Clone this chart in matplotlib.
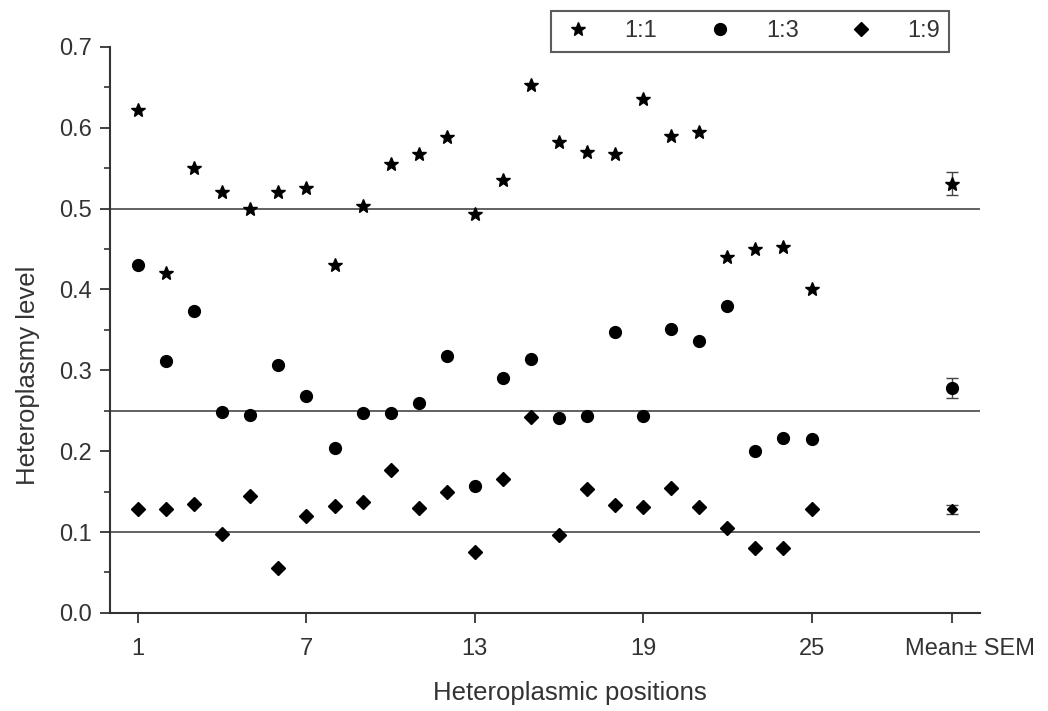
import numpy as np
import matplotlib
matplotlib.use('Agg')
import matplotlib.pyplot as plt
from matplotlib.ticker import MultipleLocator
from matplotlib.transforms import ScaledTranslation

plt.rcParams['font.family'] = ['Liberation Sans', 'DejaVu Sans']

# 数据
pos = np.arange(1, 26)
r11 = [0.622, 0.42, 0.55, 0.52, 0.50, 0.52, 0.525, 0.43, 0.503, 0.555,
       0.567, 0.588, 0.493, 0.535, 0.653, 0.583, 0.57, 0.568, 0.635, 0.59,
       0.595, 0.44, 0.45, 0.453, 0.40]
r13 = [0.43, 0.312, 0.373, 0.248, 0.245, 0.306, 0.268, 0.204, 0.247, 0.247,
       0.26, 0.318, 0.157, 0.29, 0.314, 0.241, 0.244, 0.347, 0.243, 0.351,
       0.336, 0.379, 0.20, 0.216, 0.215]
r19 = [0.128, 0.128, 0.135, 0.097, 0.144, 0.055, 0.12, 0.132, 0.137, 0.177,
       0.13, 0.15, 0.075, 0.165, 0.242, 0.096, 0.153, 0.133, 0.131, 0.155,
       0.131, 0.105, 0.08, 0.08, 0.128]
mean_x = 30
means = [0.531, 0.278, 0.128]
sems = [0.014, 0.012, 0.006]
ref_lines = [0.5, 0.25, 0.1]
labels = ['1:1', '1:3', '1:9']
xticks = [1, 7, 13, 19, 25, 30]
xticklabels = ['1', '7', '13', '19', '25', 'Mean\u00b1 SEM']

fig = plt.figure(figsize=(10.48, 7.11), dpi=100)
ax = fig.add_axes([0.105, 0.138, 0.83, 0.796])

for y in ref_lines:
    ax.axhline(y, color='#555555', lw=1.3, zorder=1)

h1, = ax.plot(pos, r11, ls='none', marker='*', ms=10, color='black', label=labels[0])
h2, = ax.plot(pos, r13, ls='none', marker='o', ms=8.5, color='black', label=labels[1])
h3, = ax.plot(pos, r19, ls='none', marker='D', ms=7, color='black', label=labels[2])

mk = ['*', 'o', 'D']
msz = [10, 8.5, 5]
for m, s, k, z in zip(means, sems, mk, msz):
    ax.errorbar(mean_x, m, yerr=s, fmt=k, ms=z, color='black', ecolor='#444444',
                elinewidth=1, capsize=4)

ax.set_xlim(0, 31)
ax.set_ylim(0, 0.7)
ax.set_xticks(xticks)
ax.set_xticklabels(xticklabels)
ax.yaxis.set_major_locator(MultipleLocator(0.1))
ax.yaxis.set_minor_locator(MultipleLocator(0.05))
ax.yaxis.set_major_formatter(plt.FormatStrFormatter('%.1f'))
ax.tick_params(axis='both', which='major', length=7, width=1.3, labelsize=17,
               colors='#333333')
ax.tick_params(axis='x', pad=11)
ax.tick_params(axis='y', pad=6)
ax.tick_params(axis='y', which='minor', length=4, width=1.2, colors='#333333')

# Mean± SEM 标签向右偏一点
lab = ax.get_xticklabels()[-1]
lab.set_transform(lab.get_transform() + ScaledTranslation(0.18, 0, fig.dpi_scale_trans))

for sp in ['top', 'right']:
    ax.spines[sp].set_visible(False)
for sp in ['left', 'bottom']:
    ax.spines[sp].set_color('#333333')
    ax.spines[sp].set_linewidth(1.5)

ax.set_xlabel('Heteroplasmic positions', fontsize=18.5, color='#333333')
ax.set_ylabel('Heteroplasmy level', fontsize=18.5, color='#333333')
ax.xaxis.set_label_coords(0.529, -0.12)
ax.yaxis.set_label_coords(-0.08, 0.42)

leg = fig.legend(handles=[h1, h2, h3], loc='center', ncol=3,
                 bbox_to_anchor=(0.716, 0.956), fontsize=17, frameon=True,
                 fancybox=False, edgecolor='#333333', handletextpad=1.2,
                 columnspacing=1.9, borderpad=0.4, handlelength=1.5)
leg.get_frame().set_linewidth(1.5)
for t in leg.get_texts():
    t.set_color('#333333')

plt.savefig('out.png', dpi=100)
